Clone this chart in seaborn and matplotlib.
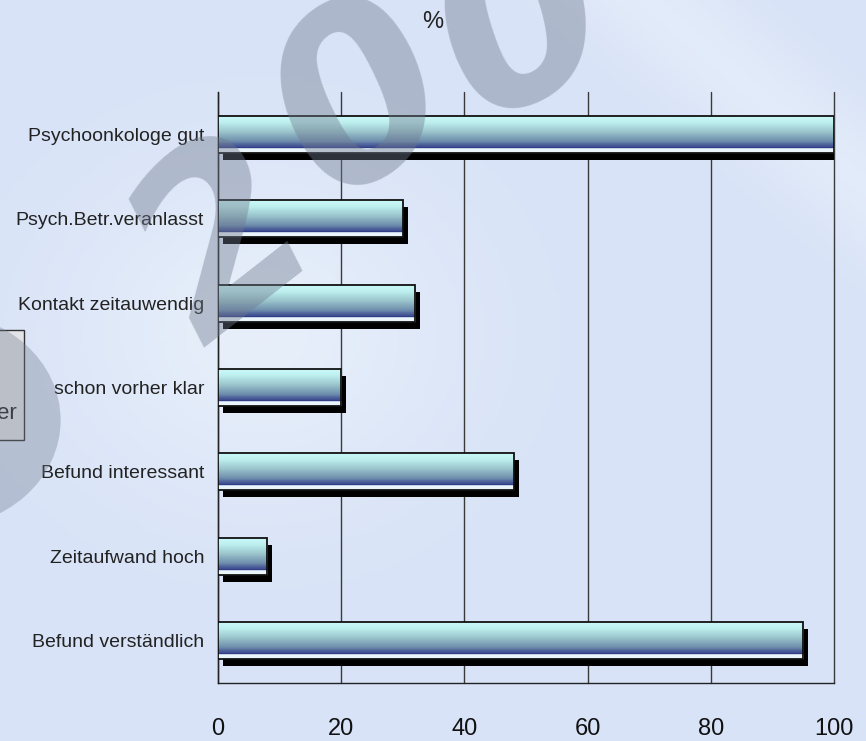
import numpy as np
import pandas as pd
import matplotlib
matplotlib.use("Agg")
import matplotlib.pyplot as plt
import matplotlib.transforms as mtransforms
from matplotlib.patches import Rectangle, Ellipse
import seaborn as sns

# chart data
categories = ["Psychoonkologe gut", "Psych.Betr.veranlasst", "Kontakt zeitauwendig",
              "schon vorher klar", "Befund interessant", "Zeitaufwand hoch",
              "Befund verständlich"]
values = [100, 30, 32, 20, 48, 8, 95]
xticks = [0, 20, 40, 60, 80, 100]

df = pd.DataFrame({"item": categories, "pct": values})

sns.set_theme(style="white")
plt.rcParams["font.family"] = ["Liberation Sans", "DejaVu Sans"]

bg = "#dde7f8"
fig = plt.figure(figsize=(8.66, 7.41), dpi=100, facecolor=bg)

# soft background shading
bgax = fig.add_axes([0, 0, 1, 1], zorder=-5)
yy, xx = np.mgrid[0:1:200j, 0:1:200j]
shade = 0.5 * np.exp(-((xx - 0.3) ** 2 + (yy - 0.55) ** 2) / 0.05)
shade += 0.35 * np.exp(-((xx + yy - 1.75) ** 2) / 0.01)
bgax.imshow(shade, cmap=matplotlib.colors.LinearSegmentedColormap.from_list(
    "bg", ["#d8e3f7", "#eaf1fb"]), extent=[0, 1, 0, 1], aspect="auto",
    origin="lower", vmin=0, vmax=0.6)
bgax.set_axis_off()

ax = fig.add_axes([0.2517, 0.0783, 0.7113, 0.7975])
ax.patch.set_alpha(0)

sns.barplot(data=df, x="pct", y="item", orient="h", width=0.44,
            color="#7fb0c0", ax=ax, zorder=3)

grad = matplotlib.colors.LinearSegmentedColormap.from_list(
    "bar", [(0.0, "#cdfafa"), (0.2, "#bdeeee"), (0.45, "#98c2ca"),
            (0.68, "#7090ae"), (0.84, "#3e4e92"), (0.87, "#2e3a85"),
            (0.89, "#eaf4fb"), (1.0, "#eaf4fb")])
g = np.linspace(0, 1, 80).reshape(-1, 1)
shadow_off = mtransforms.offset_copy(ax.transData, fig=fig, x=5, y=-7, units="dots")
for p in ax.patches:
    x0, y0 = p.get_x(), p.get_y()
    w, h = p.get_width(), p.get_height()
    sh = Rectangle((x0, y0), w, h, transform=shadow_off, facecolor="black",
                   edgecolor="none", zorder=2)
    ax.add_patch(sh)
    p.set_facecolor("none")
    p.set_edgecolor("#111111")
    p.set_linewidth(1.3)
    p.set_zorder(5)
    im = ax.imshow(g, cmap=grad, aspect="auto", extent=[x0, x0 + w, y0 + h, y0],
                   zorder=4, interpolation="nearest")
    im.set_clip_path(p)

ax.set_xlim(0, 100)
ax.set_ylim(len(categories) - 0.5, -0.5)
ax.set_xticks(xticks)
ax.set_xticklabels([str(t) for t in xticks], fontsize=17, color="#111111")
ax.set_yticks(range(len(categories)))
ax.set_yticklabels(categories, fontsize=14, color="#222222")
ax.set_yticks(np.arange(-0.5, len(categories)), minor=True)
ax.tick_params(axis="y", which="major", length=0, pad=10)
ax.tick_params(axis="y", which="minor", length=8, width=1, color="#222222", direction="out")
ax.tick_params(axis="x", length=10, width=1, color="#222222", direction="out", pad=15)
ax.set_xlabel("")
ax.set_ylabel("")
ax.xaxis.grid(True, color="#3a3a3a", linewidth=1)
for gl in ax.get_xgridlines():
    gl.set_clip_on(False)
ax.set_axisbelow(True)
for s in ["top", "right"]:
    ax.spines[s].set_visible(False)
for s in ["left", "bottom"]:
    ax.spines[s].set_color("#222222")
    ax.spines[s].set_linewidth(1)

fig.text(0.5, 0.97, "%", ha="center", va="center", fontsize=17, color="#222222")

# clipped legend box on the left edge
fig.patches.append(Rectangle((-0.02, 0.406), 0.0474, 0.148, transform=fig.transFigure,
                             facecolor="#e2e4e8", edgecolor="#333333", linewidth=1,
                             zorder=1))
fig.text(0.019, 0.442, "er", ha="right", va="center", fontsize=16, color="#222222",
         zorder=2)

# watermark, letters set along a slight arc (only "200" is visible)
wm_chars = ["2", "0", "0"]
wm_pos = [(0.262, 0.668), (0.420, 0.862), (0.605, 0.962)]
wm_rot = [38, 36, 28]
for ch, (tx, ty), r in zip(wm_chars, wm_pos, wm_rot):
    fig.text(tx, ty, ch, ha="center", va="center", rotation=r,
             rotation_mode="anchor", fontsize=170, fontweight="bold",
             fontstyle="italic", color="#707a8e", alpha=0.42,
             family="DejaVu Sans", zorder=10)
fig.patches.append(Ellipse((-0.07, 0.433), 0.28, 0.29, transform=fig.transFigure,
                           facecolor="#707a8e", alpha=0.35, edgecolor="none", zorder=10))

fig.savefig("out.png", dpi=100, facecolor=bg)
